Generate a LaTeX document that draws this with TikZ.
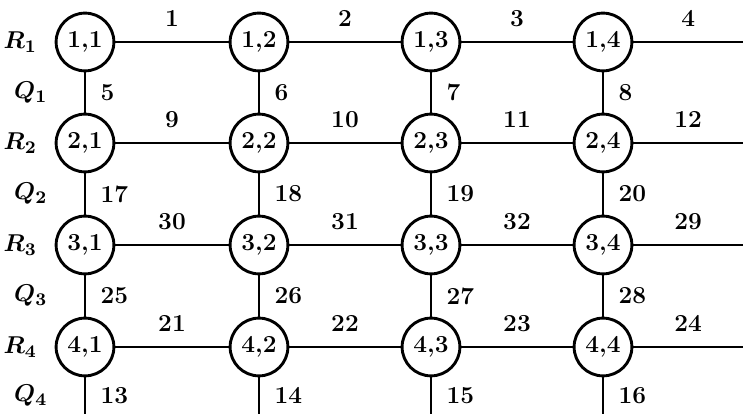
\documentclass[tikz,border=0pt]{standalone}
\usepackage{amsmath}
\usepackage{bm}
\usetikzlibrary{positioning}

\begin{document}
\begin{tikzpicture}[x=0.45pt, y=0.45pt, line width=1.3pt,
    every node/.style={font=\fontsize{11}{13}\selectfont},
    proc/.style={draw, circle, minimum size=26pt, inner sep=0pt, font=\fontsize{11}{13}\selectfont\bfseries},
    lab/.style={font=\fontsize{11}{13}\selectfont\bfseries}]
    \useasboundingbox (0,0) rectangle (743,415);

    % Processors
    \foreach \r/\y in {1/373,2/272,3/170,4/68}
        \foreach \c/\x in {1/85,2/259,3/431,4/603}
            \node[proc] (n\r\c) at (\x,\y) {\r,\c};

    % Free ends on the right and at the bottom
    \coordinate (e1) at (743,373);
    \coordinate (e2) at (743,272);
    \coordinate (e3) at (743,170);
    \coordinate (e4) at (743,68);
    \coordinate (b1) at (85,1);
    \coordinate (b2) at (259,1);
    \coordinate (b3) at (431,1);
    \coordinate (b4) at (603,1);

    % Row links
    \draw (n11) -- (n12) node[midway, above=3pt, lab] {1};
    \draw (n12) -- (n13) node[midway, above=3pt, lab] {2};
    \draw (n13) -- (n14) node[midway, above=3pt, lab] {3};
    \draw (n14) -- (e1) node[midway, above=3pt, lab] {4};
    \draw (n21) -- (n22) node[midway, above=3pt, lab] {9};
    \draw (n22) -- (n23) node[midway, above=3pt, lab] {10};
    \draw (n23) -- (n24) node[midway, above=3pt, lab] {11};
    \draw (n24) -- (e2) node[midway, above=3pt, lab] {12};
    \draw (n31) -- (n32) node[midway, above=3pt, lab] {30};
    \draw (n32) -- (n33) node[midway, above=3pt, lab] {31};
    \draw (n33) -- (n34) node[midway, above=3pt, lab] {32};
    \draw (n34) -- (e3) node[midway, above=3pt, lab] {29};
    \draw (n41) -- (n42) node[midway, above=3pt, lab] {21};
    \draw (n42) -- (n43) node[midway, above=3pt, lab] {22};
    \draw (n43) -- (n44) node[midway, above=3pt, lab] {23};
    \draw (n44) -- (e4) node[midway, above=3pt, lab] {24};

    % Column links
    \draw (n11) -- (n21) node[midway, right=3pt, lab] {5} node[midway, left=13pt] {$\bm{Q_1}$};
    \draw (n12) -- (n22) node[midway, right=3pt, lab] {6};
    \draw (n13) -- (n23) node[midway, right=3pt, lab] {7};
    \draw (n14) -- (n24) node[midway, right=3pt, lab] {8};
    \draw (n21) -- (n31) node[midway, right=3pt, lab] {17} node[midway, left=13pt] {$\bm{Q_2}$};
    \draw (n22) -- (n32) node[midway, right=3pt, lab] {18};
    \draw (n23) -- (n33) node[midway, right=3pt, lab] {19};
    \draw (n24) -- (n34) node[midway, right=3pt, lab] {20};
    \draw (n31) -- (n41) node[midway, right=3pt, lab] {25} node[midway, left=13pt] {$\bm{Q_3}$};
    \draw (n32) -- (n42) node[midway, right=3pt, lab] {26};
    \draw (n33) -- (n43) node[midway, right=3pt, lab] {27};
    \draw (n34) -- (n44) node[midway, right=3pt, lab] {28};
    \draw (n41) -- (b1) node[midway, right=3pt, lab] {13} node[midway, left=13pt] {$\bm{Q_4}$};
    \draw (n42) -- (b2) node[midway, right=3pt, lab] {14};
    \draw (n43) -- (b3) node[midway, right=3pt, lab] {15};
    \draw (n44) -- (b4) node[midway, right=3pt, lab] {16};

    % Row names
    \node[left=4pt of n11] (r1) {$\bm{R_1}$};
    \node[left=4pt of n21] (r2) {$\bm{R_2}$};
    \node[left=4pt of n31] (r3) {$\bm{R_3}$};
    \node[left=4pt of n41] (r4) {$\bm{R_4}$};
\end{tikzpicture}
\end{document}
